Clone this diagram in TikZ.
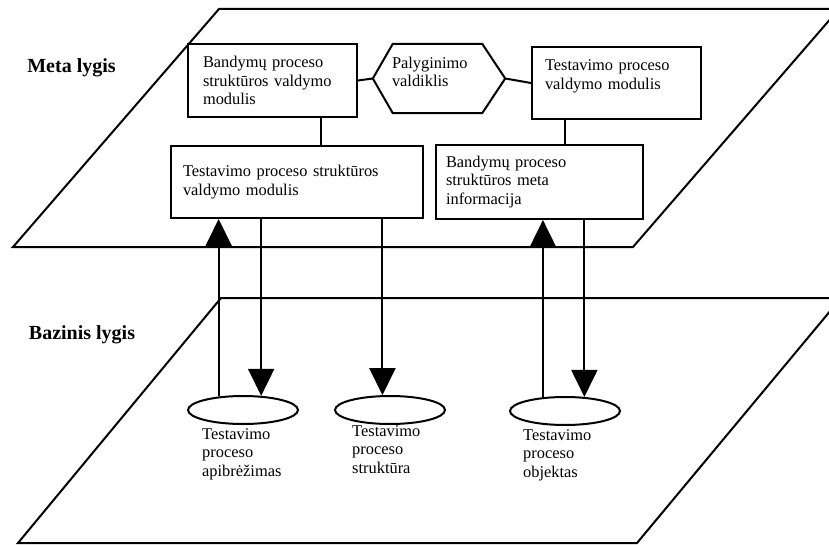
\documentclass[tikz,border=0pt]{standalone}
\usepackage{fontspec}
\setmainfont{Liberation Serif}
\usetikzlibrary{arrows.meta,shapes.geometric,calc}
\begin{document}
\begin{tikzpicture}[x=1pt,y=-1pt,
  ln/.style={line width=2pt},
  txt/.style={font=\fontsize{16.4}{18.5}\selectfont},
  lvl/.style={font=\fontsize{20}{22}\selectfont\bfseries},
  boxnode/.style={draw, line width=2pt, txt, align=left, inner sep=0pt},
  ell/.style={draw, ellipse, line width=2pt, minimum width=110pt, minimum height=28pt, inner sep=0pt},
  lab/.style={txt, align=left, inner sep=0pt, anchor=north west},
  arr/.style={line width=2pt, -{Triangle[length=27pt,width=26pt]}}
]
\clip (0,0) rectangle (829,545);
% planes
\draw[ln] (219,9) -- (839,9) -- (633,247) -- (13,247) -- cycle;
\draw[ln] (221,298) -- (841,298) -- (637,543) -- (18,543) -- cycle;
% level labels
\node[lvl] (meta) at (71.5,68) {Meta lygis};
\node[lvl] (baz) at (82,335) {Bazinis lygis};
% boxes
\node[boxnode, minimum width=169pt, minimum height=73pt, text width=139pt] (A) at (272.5,80.5)
  {Bandymų proceso\\struktūros valdymo\\modulis};
\node[txt, align=left, inner sep=0pt, minimum width=132pt, minimum height=69pt, text width=94pt] (H) at (439,78.5)
  {Palyginimo\\valdiklis\rule[-13pt]{0pt}{0pt}};
\draw[ln] (H.west) -- ([xshift=20pt]H.north west) -- ([xshift=-23pt]H.north east) -- (H.east)
  -- ([xshift=-23pt]H.south east) -- ([xshift=20pt]H.south west) -- cycle;
\node[boxnode, minimum width=169pt, minimum height=72pt, text width=143pt] (C) at (616.5,83)
  {Testavimo proceso\\valdymo modulis\rule[-17pt]{0pt}{0pt}};
\node[boxnode, minimum width=252pt, minimum height=72pt, text width=228pt] (B) at (297,182)
  {Testavimo proceso struktūros\\valdymo modulis};
\node[boxnode, minimum width=207pt, minimum height=74pt, text width=187pt] (D) at (539.5,182)
  {Bandymų proceso\\struktūros meta\\informacija};
% links between boxes
\draw[ln] (A.east) -- (H.west);
\draw[ln] (H.east) -- (C.west);
\draw[ln] ([xshift=48.5pt]A.south) -- ([xshift=48.5pt]A.south |- B.north);
\draw[ln] ([xshift=-51.5pt]C.south) -- ([xshift=-51.5pt]C.south |- D.north);
% ellipses
\node[ell] (e1) at (243,410) {};
\node[ell] (e2) at (390,410) {};
\node[ell] (e3) at (565,411) {};
\node[lab] (t1) at (202,428) {Testavimo\\proceso\\apibrėžimas};
\node[lab] (t2) at (352,425) {Testavimo\\proceso\\struktūra};
\node[lab] (t3) at (523,429) {Testavimo\\proceso\\objektas};
% arrows
\draw[arr] (e1.151) -- (e1.151 |- B.south);
\draw[arr] (e1.38 |- B.south) -- (e1.38);
\draw[arr] (e2.117 |- B.south) -- (e2.117);
\draw[arr] (e3.148) -- (e3.148 |- D.south);
\draw[arr] (e3.36 |- D.south) -- (e3.36);
\end{tikzpicture}
\end{document}
